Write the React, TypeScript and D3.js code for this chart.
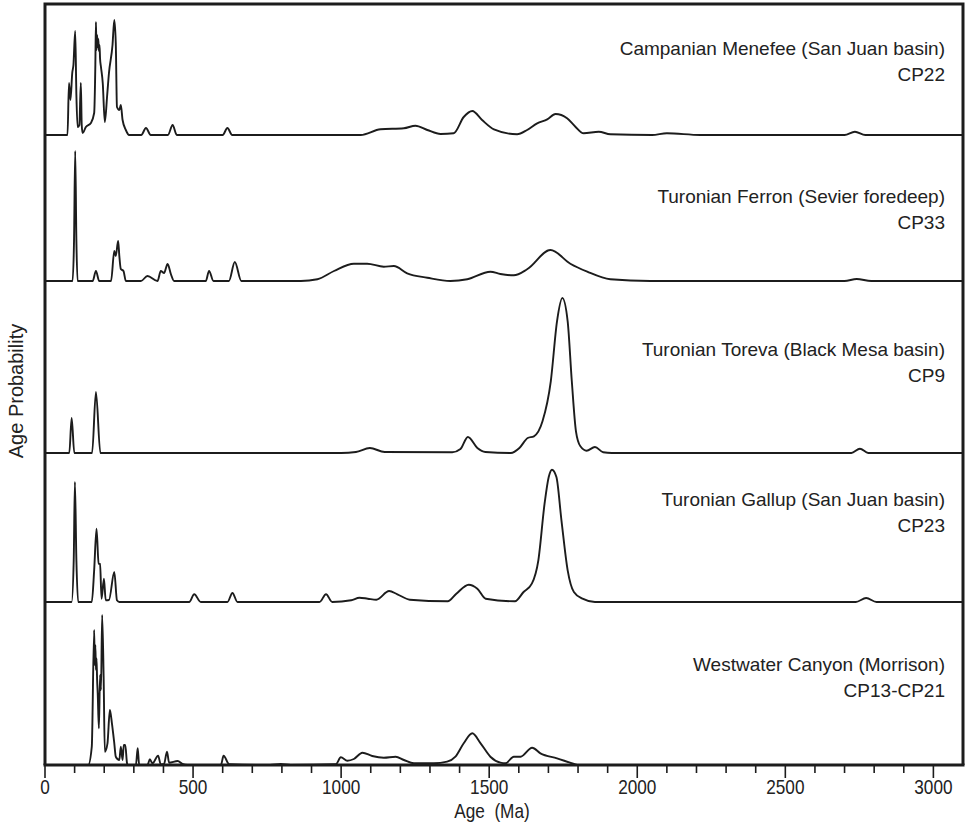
import React, { useEffect, useRef } from "react";
import * as d3 from "d3";

// age (Ma), relative probability
const menefee: [number, number][] = [
  [0, 0], [76, 0], [81, 52], [86, 35], [92, 62], [96, 70], [102, 104], [106, 40], [110, 8],
  [116, 10], [121, 52], [124, 10], [127, 2], [138, 8], [155, 12], [166, 22], [170, 70],
  [172, 113], [174, 85], [176, 100], [178, 88], [180, 96], [182, 84], [184, 90], [186, 76],
  [189, 68], [195, 52], [202, 13], [210, 40], [216, 62], [228, 90], [234, 115], [239, 92],
  [243, 28], [251, 25], [256, 30], [262, 15], [273, 5], [284, 0], [325, 0], [341, 7],
  [357, 0], [415, 0], [431, 10], [445, 0], [600, 0], [616, 7], [632, 0], [1000, 0],
  [1066, 0], [1133, 5.7], [1212, 6.7], [1251, 9.3], [1291, 5], [1336, 1], [1380, 1.7],
  [1414, 18], [1443, 24], [1476, 15], [1516, 5.7], [1594, 0.7], [1628, 5], [1662, 11.7],
  [1696, 15.7], [1724, 21], [1763, 16.7], [1791, 8.3], [1819, 1.7], [1870, 3.3],
  [1909, 0.7], [2050, 0], [2100, 1.7], [2213, 0], [2700, 0], [2735, 3.3], [2770, 0], [3100, 0],
];

const ferron: [number, number][] = [
  [0, 0], [93, 0], [98, 40], [102, 130], [106, 40], [110, 0], [161, 0], [172, 10], [183, 0],
  [223, 0], [234, 30], [239, 25], [247, 40], [251, 25], [256, 12], [265, 10], [273, 0],
  [324, 0], [346, 5], [380, 0], [391, 10], [402, 8], [414, 17], [425, 7], [436, 0],
  [543, 0], [554, 10], [569, 0], [621, 0], [641, 19], [663, 0], [800, 0], [864, 0],
  [920, 1.7], [976, 10], [1043, 17.3], [1088, 17.3], [1144, 14.3], [1178, 15], [1223, 7.7],
  [1291, 3.3], [1369, 0], [1426, 1.7], [1504, 9.3], [1538, 7], [1583, 5.7], [1628, 11.7],
  [1707, 31], [1774, 17.3], [1831, 9.3], [1909, 1.7], [2044, 0], [2700, 0], [2741, 2],
  [2790, 0], [3100, 0],
];

const toreva: [number, number][] = [
  [0, 0], [82, 0], [90, 35], [99, 0], [159, 0], [172, 61], [187, 0], [1000, 0], [1050, 1],
  [1097, 5], [1147, 1], [1375, 0.7], [1403, 4], [1428, 16], [1460, 5], [1487, 1], [1573, 0],
  [1602, 5], [1630, 15], [1651, 16.7], [1680, 31.7], [1708, 71.7], [1729, 131.7], [1747, 155],
  [1765, 131.7], [1779, 71.7], [1793, 21.7], [1808, 6.7], [1829, 2.3], [1857, 6], [1885, 0.7],
  [1914, 0], [2723, 0], [2752, 4.3], [2780, 0], [3100, 0],
];

const gallup: [number, number][] = [
  [0, 0], [90, 0], [97, 41.7], [101, 120], [106, 41.7], [112, 0], [158, 0], [166, 31.7],
  [174, 73.3], [181, 38.3], [186, 38], [191, 3.3], [199, 23.3], [205, 1.7], [216, 2],
  [234, 30], [243, 1.7], [251, 0], [487, 0], [504, 7.7], [526, 0], [616, 0], [633, 9],
  [650, 0], [927, 0], [949, 7.7], [970, 0], [1034, 1.7], [1062, 4.3], [1090, 3.3],
  [1119, 2.3], [1162, 11], [1190, 7.7], [1232, 2.3], [1360, 0.7], [1389, 8.3], [1431, 17.3],
  [1460, 13.3], [1488, 3.3], [1587, 0.7], [1616, 10], [1644, 18.3], [1666, 41.7], [1687, 98.3],
  [1701, 125], [1712, 132.3], [1727, 125], [1744, 81.7], [1765, 31.7], [1786, 10], [1815, 3.3],
  [1857, 0], [2738, 0], [2773, 4], [2808, 0], [3100, 0],
];

const westwater: [number, number][] = [
  [0, 0], [146, 0], [158, 18.3], [166, 135], [168, 100], [170, 120], [172, 95], [174, 106.7],
  [176, 85], [178, 71.7], [182, 36.7], [186, 90], [189, 75], [193, 150], [198, 88], [202, 13.3],
  [211, 21.7], [219, 55], [226, 41.7], [234, 21.7], [239, 8.3], [251, 5], [256, 18.3],
  [262, 5], [266, 20], [271, 20], [277, 1.7], [279, 0], [307, 0], [313, 16.7], [318, 0],
  [346, 0], [354, 5.7], [363, 1.7], [382, 9.3], [391, 0.5], [402, 1], [412, 13.3], [419, 2.3],
  [448, 4], [464, 1], [481, 0], [594, 0], [603, 9.3], [622, 0.7], [760, 0], [796, 1],
  [830, 0], [982, 0.7], [999, 7.7], [1021, 4.3], [1043, 6], [1072, 12.3], [1105, 9],
  [1144, 7.3], [1184, 8.3], [1212, 5], [1246, 1.7], [1313, 1.7], [1358, 3.3], [1386, 8.3],
  [1414, 21.7], [1443, 31.7], [1471, 21.7], [1504, 8.3], [1538, 2.3], [1555, 1.7],
  [1583, 8.3], [1606, 8.3], [1645, 17.3], [1673, 11.7], [1729, 6.7], [1791, 0.7], [1800, 0],
  [3100, 0],
];

const seriesData = [menefee, ferron, toreva, gallup, westwater];
const sampleNames = [
  "Campanian Menefee (San Juan basin)",
  "Turonian Ferron (Sevier foredeep)",
  "Turonian Toreva (Black Mesa basin)",
  "Turonian Gallup (San Juan basin)",
  "Westwater Canyon (Morrison)",
];
const sampleCodes = ["CP22", "CP33", "CP9", "CP23", "CP13-CP21"];
const tickLabels = [0, 500, 1000, 1500, 2000, 2500, 3000];

// layout
const W = 965;
const H = 832;
const left = 45;
const right = 963;
const top = 4;
const baselines = [135, 281, 453, 602, 765];
const labelOffset = [80, 78, 97, 96, 94];
const font = "Liberation Sans, Arial, sans-serif";

const App = () => {
  const svgRef = useRef(null);

  useEffect(() => {
    const svg = d3.select(svgRef.current);
    svg.selectAll("*").remove();

    const x = d3.scaleLinear().domain([0, 3100]).range([left, right]);
    const bottom = baselines[baselines.length - 1];

    // curves
    seriesData.forEach((data, i) => {
      const y = d3
        .scaleLinear()
        .domain([0, 100])
        .range([baselines[i], baselines[i] - 100]);
      const line = d3
        .line<[number, number]>()
        .x((d) => x(d[0]))
        .y((d) => y(d[1]))
        .curve(d3.curveMonotoneX);
      svg
        .append("path")
        .attr("d", line(data))
        .attr("fill", "none")
        .attr("stroke", "#1c1c1c")
        .attr("stroke-width", 1.9)
        .attr("stroke-linejoin", "round");

      const ty = baselines[i] - labelOffset[i];
      svg
        .append("text")
        .attr("x", 945)
        .attr("y", ty)
        .attr("text-anchor", "end")
        .attr("font-family", font)
        .attr("font-size", 19)
        .attr("fill", "#222")
        .text(sampleNames[i]);
      svg
        .append("text")
        .attr("x", 945)
        .attr("y", ty + 26)
        .attr("text-anchor", "end")
        .attr("font-family", font)
        .attr("font-size", 19)
        .attr("fill", "#222")
        .text(sampleCodes[i]);
    });

    // frame
    svg
      .append("path")
      .attr("d", `M${left},${bottom}V${top}H${right}V${bottom}`)
      .attr("fill", "none")
      .attr("stroke", "#1c1c1c")
      .attr("stroke-width", 3);

    // x axis
    const axis = svg.append("g").attr("transform", `translate(0,${bottom})`);
    axis
      .append("line")
      .attr("x1", left - 1.5)
      .attr("x2", right + 1.5)
      .attr("stroke", "#1c1c1c")
      .attr("stroke-width", 3.2);
    const minor = d3.range(0, 3001, 100);
    axis
      .selectAll("line.tick")
      .data(minor)
      .enter()
      .append("line")
      .attr("class", "tick")
      .attr("x1", (d) => x(d))
      .attr("x2", (d) => x(d))
      .attr("y1", 0)
      .attr("y2", (d) => (d % 500 === 0 ? 13 : 8))
      .attr("stroke", "#1c1c1c")
      .attr("stroke-width", 1.6);
    axis
      .selectAll("text.lbl")
      .data(tickLabels)
      .enter()
      .append("text")
      .attr("class", "lbl")
      .attr("transform", (d) => `translate(${x(d)},29) scale(0.86,1)`)
      .attr("text-anchor", "middle")
      .attr("font-family", font)
      .attr("font-size", 20)
      .attr("fill", "#222")
      .text((d) => d);

    svg
      .append("text")
      .attr("transform", "translate(492,818) scale(0.86,1)")
      .attr("text-anchor", "middle")
      .attr("font-family", font)
      .attr("font-size", 20)
      .attr("fill", "#222")
      .style("white-space", "pre")
      .text("Age  (Ma)");

    svg
      .append("text")
      .attr("transform", `translate(23,391) rotate(-90)`)
      .attr("text-anchor", "middle")
      .attr("font-family", font)
      .attr("font-size", 20)
      .attr("fill", "#222")
      .text("Age Probability");
  }, []);

  return (
    <svg
      ref={svgRef}
      width={W}
      height={H}
      style={{ position: "absolute", left: 0, top: 0, background: "#fff" }}
    />
  );
};

export default App;
